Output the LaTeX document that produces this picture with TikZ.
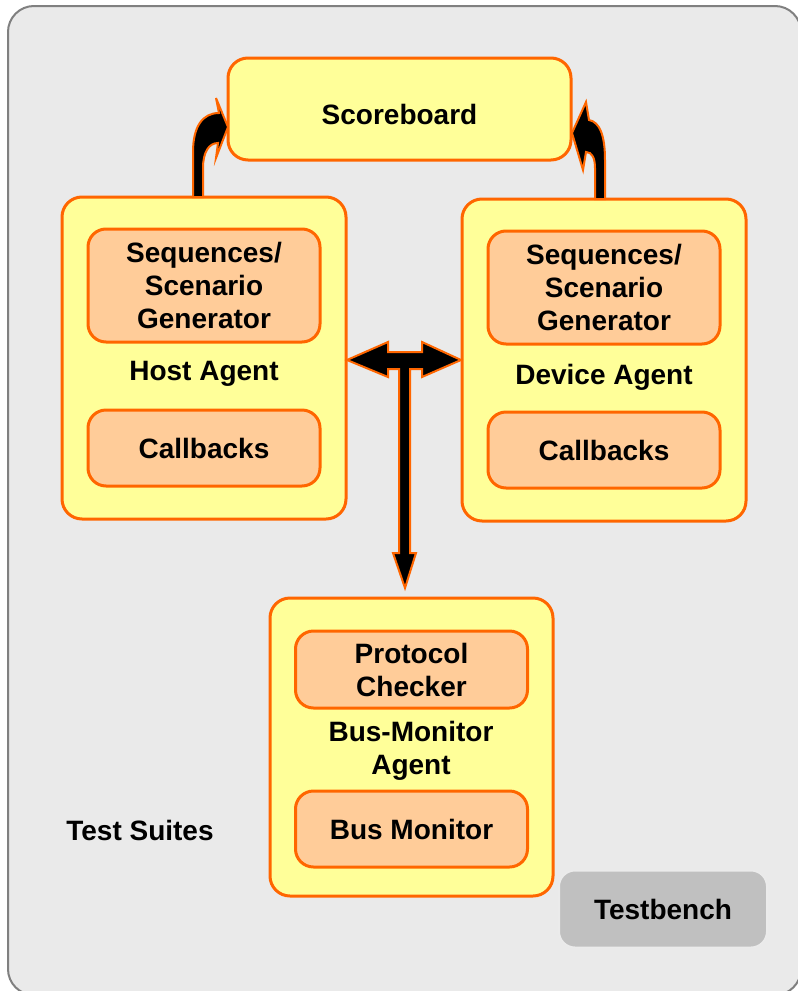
\documentclass[tikz,border=0pt]{standalone}
\usepackage{fontspec}
\setmainfont{Liberation Sans}
\usetikzlibrary{positioning}
\definecolor{paleyellow}{HTML}{FFFF99}
\definecolor{peach}{HTML}{FFCC99}
\definecolor{rim}{HTML}{FF6600}
\definecolor{suitefill}{HTML}{EAEAEA}
\definecolor{suiteline}{HTML}{808080}
\definecolor{benchfill}{HTML}{C0C0C0}
\tikzset{
  agent/.style={draw=rim, fill=paleyellow, line width=1.5pt, rounded corners=10pt, inner sep=0pt},
  part/.style={draw=rim, fill=peach, line width=1.5pt, rounded corners=9pt,
               minimum width=116pt, align=center, inner sep=0pt},
  blockarrow/.style={draw=rim, fill=black, line width=1pt, line join=miter},
}

\begin{document}
\begin{tikzpicture}[x=0.5pt, y=-0.5pt,
    font=\fontsize{14}{16.5}\selectfont\bfseries]

  \useasboundingbox (0,0) rectangle (798,991);
  \clip (0,0) rectangle (798,991);

  % test suites frame
  \draw[fill=suitefill, draw=suiteline, line width=1pt, rounded corners=13pt]
    (8,6) rectangle (801,995);

  \node (score) [agent, minimum width=171.5pt, minimum height=51pt,
                 text height=16pt, text depth=0.2pt] at (399.5,109) {Scoreboard};

  % host side
  \node (host) [agent, minimum width=142pt, minimum height=161pt] at (204,358) {};
  \node (hostseq) [part, minimum height=56.5pt, below=16pt of host.north]
        {Sequences/\\Scenario\\Generator};
  \node (hostcb) [part, minimum height=38pt, above=16.5pt of host.south] {Callbacks};
  \node (hostlbl) at (204,374) {Host Agent};

  % device side
  \node (dev) [agent, minimum width=142pt, minimum height=161pt] at (604,360) {};
  \node (devseq) [part, minimum height=56.5pt, below=16pt of dev.north]
        {Sequences/\\Scenario\\Generator};
  \node (devcb) [part, minimum height=38pt, above=16.5pt of dev.south] {Callbacks};
  \node (devlbl) at (604,377) {Device Agent};

  % bus monitor
  \node (bus) [agent, minimum width=141.5pt, minimum height=149pt] at (411.5,747) {};
  \node (chk) [part, minimum height=38.5pt, below=16.5pt of bus.north] {Protocol\\Checker};
  \node (mon) [part, minimum height=38pt, above=14.5pt of bus.south] {Bus Monitor};
  \node (buslbl) [align=center] at (411,751) {Bus-Monitor\\Agent};

  \node (suites) at (140,830) {Test Suites};
  \node (bench) [fill=benchfill, draw=white!92!black, line width=1pt, rounded corners=8pt,
                 minimum width=104pt, minimum height=38.5pt] at (663,909) {Testbench};

  % curved arrows up to the scoreboard
  \draw[blockarrow] (193,197) -- (193,152) .. controls (193,126) and (203,113) .. (219,113)
    -- (216,98) -- (228,127) -- (216,158) -- (218,143)
    .. controls (209,143) and (203,152) .. (203,168) -- (203,197) -- cycle;
  \draw[blockarrow] (595,199) -- (595,168) .. controls (595,158) and (592,152) .. (586,152)
    -- (583,170) -- (572,133) -- (586,102) -- (589,120)
    .. controls (600,122) and (605,136) .. (605,160) -- (605,199) -- cycle;

  % agents to bus monitor
  \draw[blockarrow] (347,360) -- (388,342) -- (388,352) -- (422,352) -- (422,342)
    -- (461,360) -- (422,377) -- (422,369) -- (410,369) -- (410,553) -- (416,553)
    -- (405,588) -- (393,553) -- (399,553) -- (399,369) -- (388,369) -- (388,377) -- cycle;

\end{tikzpicture}
\end{document}
